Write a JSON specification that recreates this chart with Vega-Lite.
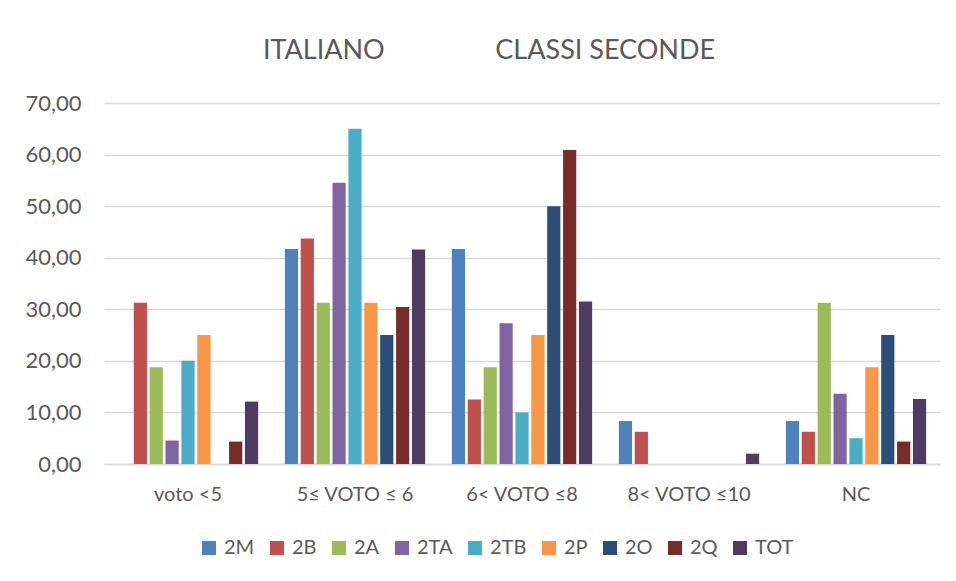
{
  "$schema": "https://vega.github.io/schema/vega-lite/v6.json",
  "width": 836,
  "height": 361,
  "autosize": {"type": "none"},
  "padding": {"left": 104, "top": 103, "right": 16, "bottom": 117},
  "background": "white",
  "title": {
    "text": "ITALIANO\u00a0\u00a0\u00a0\u00a0\u00a0\u00a0\u00a0\u00a0\u00a0\u00a0\u00a0\u00a0\u00a0\u00a0\u00a0\u00a0CLASSI SECONDE",
    "anchor": "middle",
    "dx": -33,
    "offset": 27,
    "font": "Lato",
    "fontSize": 27,
    "fontWeight": "normal",
    "color": "#595959"
  },
  "data": {
    "values": [
      {"cat": "voto <5", "cls": "2M", "v": 0},
      {"cat": "voto <5", "cls": "2B", "v": 31.25},
      {"cat": "voto <5", "cls": "2A", "v": 18.75},
      {"cat": "voto <5", "cls": "2TA", "v": 4.55},
      {"cat": "voto <5", "cls": "2TB", "v": 20},
      {"cat": "voto <5", "cls": "2P", "v": 25},
      {"cat": "voto <5", "cls": "2O", "v": 0},
      {"cat": "voto <5", "cls": "2Q", "v": 4.35},
      {"cat": "voto <5", "cls": "TOT", "v": 12.1},
      {"cat": "5≤ VOTO ≤ 6", "cls": "2M", "v": 41.67},
      {"cat": "5≤ VOTO ≤ 6", "cls": "2B", "v": 43.75},
      {"cat": "5≤ VOTO ≤ 6", "cls": "2A", "v": 31.25},
      {"cat": "5≤ VOTO ≤ 6", "cls": "2TA", "v": 54.55},
      {"cat": "5≤ VOTO ≤ 6", "cls": "2TB", "v": 65},
      {"cat": "5≤ VOTO ≤ 6", "cls": "2P", "v": 31.25},
      {"cat": "5≤ VOTO ≤ 6", "cls": "2O", "v": 25},
      {"cat": "5≤ VOTO ≤ 6", "cls": "2Q", "v": 30.43},
      {"cat": "5≤ VOTO ≤ 6", "cls": "TOT", "v": 41.6},
      {"cat": "6< VOTO ≤8", "cls": "2M", "v": 41.67},
      {"cat": "6< VOTO ≤8", "cls": "2B", "v": 12.5},
      {"cat": "6< VOTO ≤8", "cls": "2A", "v": 18.75},
      {"cat": "6< VOTO ≤8", "cls": "2TA", "v": 27.27},
      {"cat": "6< VOTO ≤8", "cls": "2TB", "v": 10},
      {"cat": "6< VOTO ≤8", "cls": "2P", "v": 25},
      {"cat": "6< VOTO ≤8", "cls": "2O", "v": 50},
      {"cat": "6< VOTO ≤8", "cls": "2Q", "v": 60.87},
      {"cat": "6< VOTO ≤8", "cls": "TOT", "v": 31.5},
      {"cat": "8< VOTO ≤10", "cls": "2M", "v": 8.33},
      {"cat": "8< VOTO ≤10", "cls": "2B", "v": 6.25},
      {"cat": "8< VOTO ≤10", "cls": "2A", "v": 0},
      {"cat": "8< VOTO ≤10", "cls": "2TA", "v": 0},
      {"cat": "8< VOTO ≤10", "cls": "2TB", "v": 0},
      {"cat": "8< VOTO ≤10", "cls": "2P", "v": 0},
      {"cat": "8< VOTO ≤10", "cls": "2O", "v": 0},
      {"cat": "8< VOTO ≤10", "cls": "2Q", "v": 0},
      {"cat": "8< VOTO ≤10", "cls": "TOT", "v": 2.0},
      {"cat": "NC", "cls": "2M", "v": 8.33},
      {"cat": "NC", "cls": "2B", "v": 6.25},
      {"cat": "NC", "cls": "2A", "v": 31.25},
      {"cat": "NC", "cls": "2TA", "v": 13.64},
      {"cat": "NC", "cls": "2TB", "v": 5},
      {"cat": "NC", "cls": "2P", "v": 18.75},
      {"cat": "NC", "cls": "2O", "v": 25},
      {"cat": "NC", "cls": "2Q", "v": 4.35},
      {"cat": "NC", "cls": "TOT", "v": 12.6}
    ]
  },
  "mark": {"type": "bar"},
  "encoding": {
    "x": {
      "field": "cat",
      "type": "nominal",
      "sort": null,
      "scale": {"paddingInner": 0.16, "paddingOuter": 0.083},
      "axis": {
        "title": null,
        "labelAngle": 0,
        "labelFont": "Lato",
        "labelFontSize": 20,
        "labelColor": "#595959",
        "labelPadding": 20,
        "ticks": false,
        "domainColor": "#D9D9D9",
        "domainWidth": 1.5
      }
    },
    "xOffset": {
      "field": "cls",
      "type": "nominal",
      "sort": ["2M", "2B", "2A", "2TA", "2TB", "2P", "2O", "2Q", "TOT"],
      "scale": {"paddingInner": 0.17, "paddingOuter": 0}
    },
    "y": {
      "field": "v",
      "type": "quantitative",
      "scale": {"domain": [0, 70]},
      "axis": {
        "title": null,
        "values": [0, 10, 20, 30, 40, 50, 60, 70],
        "labelExpr": "replace(format(datum.value, '.2f'), '.', ',')",
        "labelFont": "Lato",
        "labelFontSize": 22,
        "labelColor": "#595959",
        "labelPadding": 23,
        "ticks": false,
        "domain": false,
        "gridColor": "#D9D9D9",
        "gridWidth": 1.5
      }
    },
    "color": {
      "field": "cls",
      "type": "nominal",
      "sort": ["2M", "2B", "2A", "2TA", "2TB", "2P", "2O", "2Q", "TOT"],
      "scale": {
        "domain": ["2M", "2B", "2A", "2TA", "2TB", "2P", "2O", "2Q", "TOT"],
        "range": ["#4F81BD", "#C0504D", "#9BBB59", "#8064A2", "#4BACC6", "#F79646", "#2C4D75", "#772C2A", "#4D3B62"]
      },
      "legend": {
        "title": null,
        "orient": "none",
        "direction": "horizontal",
        "legendX": 95,
        "legendY": 435,
        "symbolType": "square",
        "symbolSize": 196,
        "symbolStrokeWidth": 0,
        "labelFont": "Lato",
        "labelFontSize": 20,
        "labelColor": "#595959",
        "labelOffset": 5,
        "columnPadding": 12
      }
    }
  },
  "config": {"view": {"stroke": null}}
}
